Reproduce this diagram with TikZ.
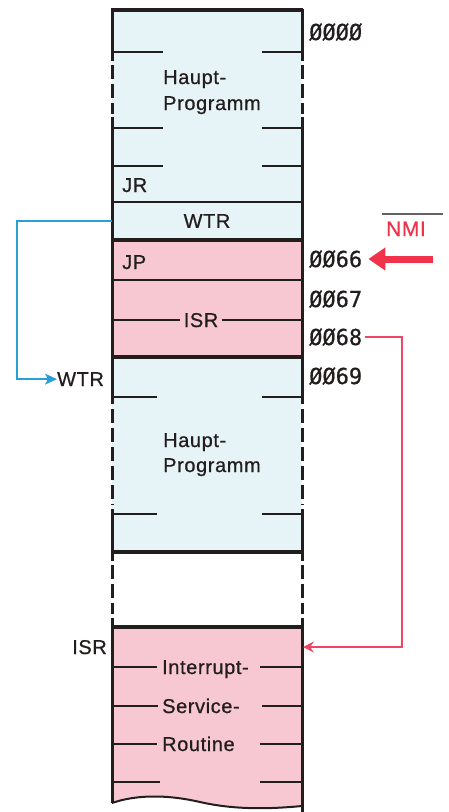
\documentclass[tikz,border=0pt]{standalone}
\usepackage{fontspec}
\setmainfont[LetterSpace=3,FakeBold=0.7]{Liberation Sans}
\newfontfamily\addrfont[FakeBold=0.8]{DejaVu Sans Mono}
\usetikzlibrary{arrows.meta,calc}
\definecolor{memblue}{RGB}{230,243,247}
\definecolor{mempink}{RGB}{247,200,210}
\definecolor{linkblue}{RGB}{40,160,215}
\definecolor{linkred}{RGB}{238,70,100}
\definecolor{nmired}{RGB}{240,50,75}
\definecolor{ink}{RGB}{35,30,30}
\begin{document}
\begin{tikzpicture}[x=1pt,y=-1pt,
  border/.style={draw=ink,line width=3.2pt},
  thinline/.style={draw=ink,line width=2pt},
  tick/.style={draw=ink,line width=2pt},
  side/.style={draw=ink,line width=3pt},
  sidedash/.style={draw=ink,line width=3pt,dash pattern=on 14pt off 5pt},
  lab/.style={font=\fontsize{20}{22}\selectfont,text=ink,inner sep=0pt},
  addr/.style={font=\addrfont\fontsize{22}{24}\selectfont,text=ink,inner sep=0pt,anchor=base west},
  bluelink/.style={draw=linkblue,line width=1.4pt,-{Stealth[length=12pt,width=11pt,inset=3pt]}},
  redlink/.style={draw=linkred,line width=1.2pt,-{Stealth[length=11pt,width=11pt,inset=4pt]}},
  nmiarrow/.style={draw=nmired,line width=7pt,-{Triangle[length=17pt,width=22pt]},shorten >=6pt}
]
\useasboundingbox (0,0) rectangle (448,812);
% fills
\fill[memblue] (112,10) rectangle (302,240);
\fill[mempink] (112,240) rectangle (302,357);
\fill[memblue] (112,357) rectangle (302,552);
\fill[mempink] (112,627) -- (302,627) -- (302,806)
  .. controls (270,809) and (235,810) .. (200,802)
  .. controls (165,794) and (135,795) .. (112,803) -- cycle;
% WTR block
\node[lab,fill=memblue,minimum width=190pt,minimum height=37pt] (wtrblk) at (207,221) {WTR};
% horizontal borders
\foreach \yy in {10,240,357,552,627} {\draw[border] (111,\yy) -- (303,\yy);}
\foreach \yy in {202,280} {\draw[thinline] (111,\yy) -- (303,\yy);}
% ticks block A
\foreach \yy in {52,128,166} {\draw[tick] (112,\yy) -- (163,\yy); \draw[tick] (262,\yy) -- (302,\yy);}
% ISR line in JP block
\draw[tick] (112,320) -- (180,320); \draw[tick] (222,320) -- (302,320);
% ticks block B
\foreach \yy in {397,514} {\draw[tick] (112,\yy) -- (157,\yy); \draw[tick] (262,\yy) -- (302,\yy);}
% ticks ISR block
\draw[tick] (112,667) -- (157,667); \draw[tick] (260,667) -- (302,667);
\draw[tick] (112,706) -- (158,706); \draw[tick] (262,706) -- (302,706);
\draw[tick] (112,744) -- (157,744); \draw[tick] (260,744) -- (302,744);
\draw[tick] (112,782) -- (160,782); \draw[tick] (260,782) -- (302,782);
% wavy bottom
\draw[tick] (112,803) .. controls (135,795) and (165,794) .. (200,802)
  .. controls (235,810) and (270,809) .. (302,806);
% sides
\foreach \sx in {112,302} {
  \draw[side] (\sx,9) -- (\sx,61);
  \draw[sidedash] (\sx,65) -- (\sx,114);
  \draw[side] (\sx,117) -- (\sx,404);
  \draw[sidedash] (\sx,409) -- (\sx,505);
  \draw[side] (\sx,509) -- (\sx,561);
  \draw[sidedash] (\sx,565) -- (\sx,614);
}
\draw[side] (112,618) -- (112,803);
\draw[side] (302,618) -- (302,812);
% texts in column
\node[lab,anchor=base west] (hp1) at (163,84) {Haupt-};
\node[lab,anchor=base west] (pg1) at (163,110) {Programm};
\node[lab,anchor=base west] (jr) at (122,192) {JR};
\node[lab,anchor=base west] (jp) at (122,269) {JP};
\node[lab,anchor=base] (isrin1) at (201,327) {ISR};
\node[lab,anchor=base west] (hp2) at (163,447) {Haupt-};
\node[lab,anchor=base west] (pg2) at (163,472) {Programm};
\node[lab,anchor=base west] (irq) at (162,674) {Interrupt-};
\node[lab,anchor=base west] (svc) at (162,713) {Service-};
\node[lab,anchor=base west] (rtn) at (162,751) {Routine};
% addresses
\node[addr] (a000) at (309,40) {ØØØØ};
\node[addr] (a066) at (309,267) {ØØ66};
\node[addr] (a067) at (309,307) {ØØ67};
\node[addr] (a068) at (309,345) {ØØ68};
\node[addr] (a069) at (309,384) {ØØ69};
% outside labels
\node[lab,anchor=base west] (wtrlbl) at (57,386) {WTR};
\node[lab,anchor=base east] (isrlbl) at (107,654) {ISR};
\node[lab,text=nmired,font=\fontsize{21}{23}\selectfont,anchor=base] (nmi) at (406,236) {NMI};
\draw[draw=ink!70,line width=1.2pt] (382,214) -- (443,214);
% connectors
\draw[bluelink] (wtrblk.west) -- ++(-95,0) |- (wtrlbl.west);
\coordinate (isrentry) at (303,647);
\coordinate (redturn) at (402,647);
\draw[redlink] ([xshift=3pt]a068.east) -| (redturn) -- (isrentry);
\coordinate (nmitail) at (433,259);
\draw[nmiarrow] (nmitail) -- (a066.east |- nmitail);
\end{tikzpicture}
\end{document}
